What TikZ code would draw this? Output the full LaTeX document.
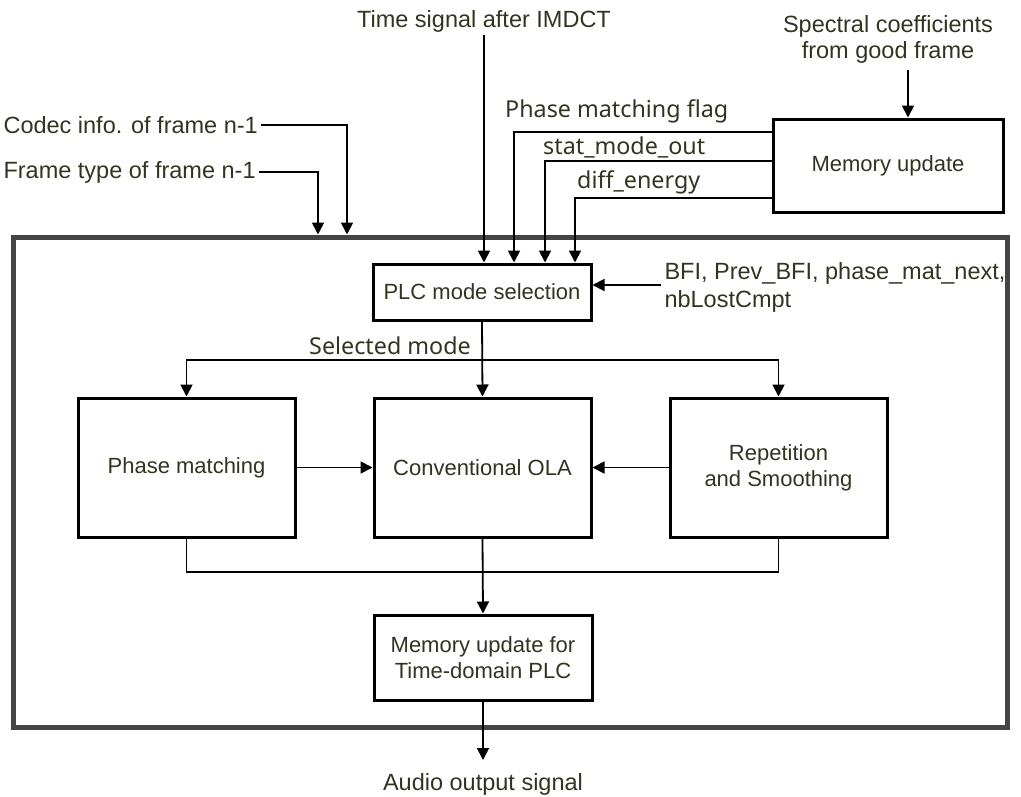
\documentclass[tikz,border=0pt]{standalone}
\usepackage{fontspec}
\setmainfont{Liberation Sans}
\newfontfamily\lblfont{Noto Sans}
\usetikzlibrary{arrows.meta}
\definecolor{txt}{RGB}{51,51,34}
\definecolor{frame}{RGB}{68,68,68}
\begin{document}
\begin{tikzpicture}[x=1pt,y=-1pt,
  every node/.style={text=txt},
  lbl/.style={font=\fontsize{23.5}{26}\selectfont, align=center},
  lbk/.style={font=\lblfont\fontsize{23.3}{26}\selectfont, inner sep=2pt},
  blk/.style={draw=black, line width=3pt, fill=white, font=\fontsize{22}{26}\selectfont, align=center, inner sep=0pt},
  conn/.style={draw=black, line width=1.8pt},
  arr/.style={conn, -{Triangle[length=12pt,width=12pt]}},
]
\useasboundingbox (0,0) rectangle (1021,796);
% outer frame
\node[draw=frame, line width=5pt, minimum width=994pt, minimum height=490pt, inner sep=0pt] (outer) at (510,482) {};
% blocks
\node[blk, minimum width=230pt, minimum height=93pt] (mem) at (888,165.5) {Memory update};
\node[blk, minimum width=218pt, minimum height=56pt] (plc) at (482,292) {PLC mode selection};
\node[blk, minimum width=217pt, minimum height=139pt] (pm) at (186.5,467.5) {Phase matching};
\node[blk, minimum width=217pt, minimum height=139pt] (ola) at (482.5,467.5) {Conventional OLA};
\node[blk, minimum width=217pt, minimum height=139pt] (rep) at (778.5,467.5) {Repetition\\and Smoothing};
\node[blk, minimum width=218pt, minimum height=85pt] (mtd) at (483,657.5) {Memory update for\\Time-domain PLC};
% labels
\node[lbl] (spectral) at (888,39) {Spectral coefficients\\from good frame};
\node[lbl] (time) at (484,21) {Time signal after IMDCT};
\node[lbl, anchor=west] (codec) at (0,125) {Codec info. of frame n-1};
\node[lbl, anchor=west] (ftype) at (0,172) {Frame type of frame n-1};
\node[lbk, anchor=west] (flag) at (503,111) {Phase matching flag};
\node[lbk, anchor=west] (stat) at (541,147) {stat\_mode\_out};
\node[lbk, anchor=west] (diff) at (575,182) {diff\_energy};
\node[lbl, anchor=west, align=left, font=\fontsize{23.5}{28}\selectfont] (bfi) at (661,287) {BFI, Prev\_BFI, phase\_mat\_next,\\nbLostCmpt};
\node[lbk] (sel) at (390,346) {Selected mode};
\node[lbl] (audio) at (483,784) {Audio output signal};
% connectors
\coordinate (sp) at (908,70);
\draw[arr] (sp) -- (sp |- mem.north);
\draw[arr] (time.south) -- (time.south |- plc.north);
\draw[arr] (mem.west |- 0,132) -| (514,0 |- plc.north);
\draw[arr] (mem.west |- 0,161) -| (545,0 |- plc.north);
\draw[arr] (mem.west |- 0,198) -| (575,0 |- plc.north);
\draw[arr] (codec.east) -| (347,0 |- outer.north);
\draw[arr] (ftype.east) -| (318,0 |- outer.north);
\draw[arr] (bfi.west |- 0,285) -- (plc.east |- 0,285);
\coordinate (split) at (plc.south |- 0,360);
\draw[arr] (split) -| (pm.north);
\draw[arr] (split) -| (rep.north);
\draw[arr] (plc.south) -- (ola.north);
\draw[arr] (pm) -- (ola);
\draw[arr] (rep) -- (ola);
\coordinate (join) at (ola.south |- 0,572);
\draw[conn] (pm.south) |- (join);
\draw[conn] (rep.south) |- (join);
\draw[arr] (ola.south) -- (mtd.north);
\draw[arr] (mtd.south) -- (mtd.south |- 0,760);
\end{tikzpicture}
\end{document}
